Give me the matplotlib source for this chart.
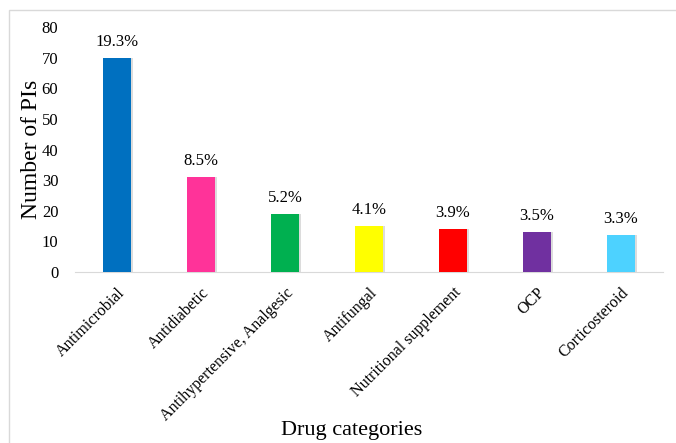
import matplotlib
matplotlib.use("Agg")
import matplotlib.pyplot as plt
from matplotlib.patches import Rectangle

categories = ["Antimicrobial", "Antidiabetic", "Antihypertensive, Analgesic",
              "Antifungal", "Nutritional supplement", "OCP", "Corticosteroid"]
counts = [70, 31, 19, 15, 14, 13, 12]
percents = ["19.3%", "8.5%", "5.2%", "4.1%", "3.9%", "3.5%", "3.3%"]
colors = ["#0070C0", "#FF3399", "#00B050", "#FFFF00", "#FF0000", "#7030A0", "#4DD2FF"]
yticks = [0, 10, 20, 30, 40, 50, 60, 70, 80]

plt.rcParams["font.family"] = ["Liberation Serif", "DejaVu Serif"]

fig = plt.figure(figsize=(6.76, 4.43), dpi=100)
# light frame round the chart area
fig.patches.append(Rectangle((9 / 676, -0.1), 1.0, 1 - 10 / 443 + 0.1,
                             transform=fig.transFigure, fill=False,
                             edgecolor="#D9D9D9", linewidth=1.0))

ax = fig.add_axes([75 / 676, 1 - 272 / 443, 588 / 676, 245 / 443])
x = list(range(len(categories)))
# soft shadow on the right of each bar
ax.bar([xi + 0.02 for xi in x], counts, width=0.33, color="#BBBBBB", alpha=0.5, zorder=2)
ax.bar(x, counts, width=0.33, color=colors, zorder=3)

for xi, c, p in zip(x, counts, percents):
    ax.text(xi, c + 2.6, p, ha="center", va="bottom", fontsize=12)

ax.set_xlim(-0.5, len(categories) - 0.5)
ax.set_ylim(0, 80)
ax.set_yticks(yticks)
ax.set_xticks(x)
ax.set_xticklabels(categories, rotation=45, ha="right", rotation_mode="anchor", fontsize=11.5)
ax.tick_params(axis="both", length=0)
ax.tick_params(axis="y", pad=12, labelsize=12)
ax.tick_params(axis="x", pad=9)

for s in ["top", "right", "left"]:
    ax.spines[s].set_visible(False)
ax.spines["bottom"].set_color("#D9D9D9")

ax.set_ylabel("Number of PIs", fontsize=17, labelpad=0)
fig.text(352 / 676, 1 - 431 / 443, "Drug categories", ha="center", va="center", fontsize=16)

fig.savefig("out.png", dpi=100)
